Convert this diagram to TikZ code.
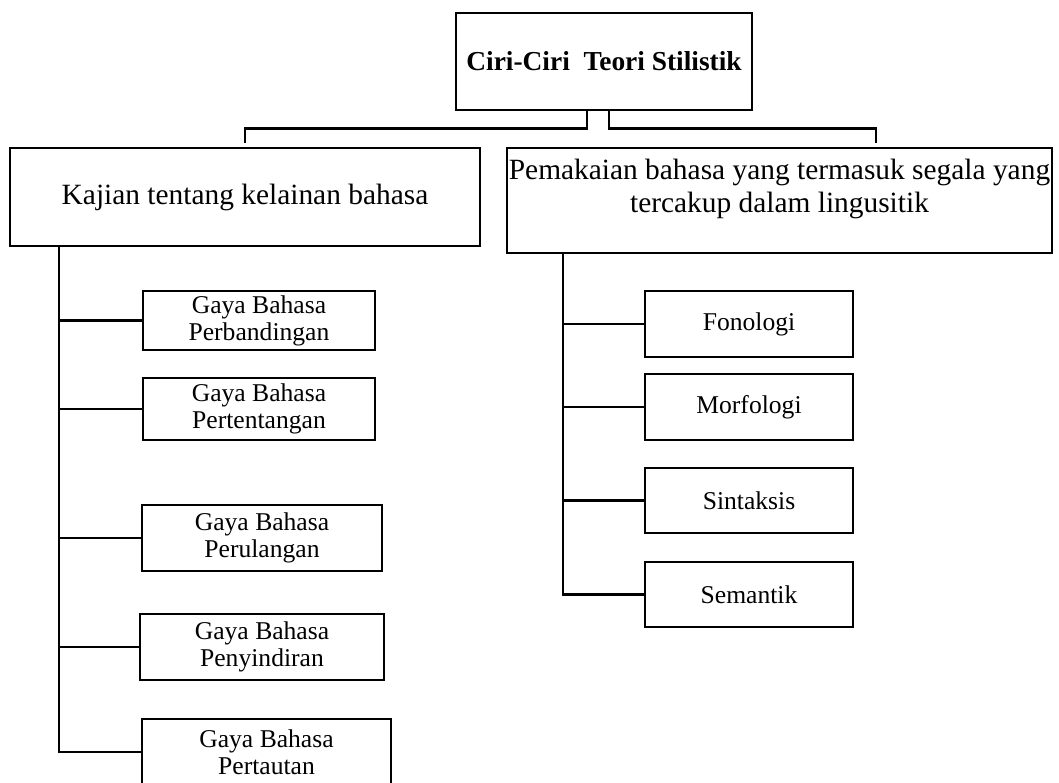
\documentclass[tikz,border=0pt]{standalone}
\usepackage{fontspec}
\setmainfont{Liberation Serif}
\usepackage{tikz}
\usetikzlibrary{positioning, calc}

\begin{document}
\begin{tikzpicture}[
  x=0.5pt, y=-0.5pt,
  box/.style={draw, line width=1.3pt, align=center, inner sep=0pt, fill=white},
  headbox/.style={box, font=\fontsize{13.7}{16}\selectfont\bfseries},
  mainbox/.style={box, font=\fontsize{14.7}{16.5}\selectfont},
  subbox/.style={box, font=\fontsize{12.8}{13.6}\selectfont},
  link/.style={line width=1.2pt, line cap=rect}
]
\useasboundingbox (0,0) rectangle (1059,782);

% judul
\node[headbox, minimum width=148pt, minimum height=48.5pt] (judul) at (604,61.5) {Ciri-Ciri~ Teori Stilistik};

% dua cabang utama
\node[mainbox, minimum width=235pt, minimum height=49pt] (kajian) at (245,197) {Kajian tentang kelainan bahasa};
\node[mainbox, minimum width=272.5pt, minimum height=52.5pt] (pemakaian) at (779.5,200.5) {};
\node[font=\fontsize{14.7}{16.5}\selectfont, align=center, inner sep=0pt] (pemakaianteks) at ([yshift=6pt]pemakaian.center)
  {Pemakaian bahasa yang termasuk segala yang\\tercakup dalam lingusitik};

% gaya bahasa
\node[subbox, minimum width=116pt, minimum height=29.5pt] (perbandingan) at (259,320.5) {Gaya Bahasa\\Perbandingan};
\node[subbox, minimum width=116pt, minimum height=31pt] (pertentangan) at (259,409) {Gaya Bahasa\\Pertentangan};
\node[subbox, minimum width=120pt, minimum height=33pt] (perulangan) at (262,538) {Gaya Bahasa\\Perulangan};
\node[subbox, minimum width=122pt, minimum height=33pt] (penyindiran) at (262,647) {Gaya Bahasa\\Penyindiran};
\node[subbox, minimum width=124.5pt, minimum height=33pt] (pertautan) at (266.5,752) {Gaya Bahasa\\Pertautan};

% linguistik
\node[subbox, minimum width=104pt, minimum height=33pt] (fonologi) at (749,324) {Fonologi};
\node[subbox, minimum width=104pt, minimum height=33pt] (morfologi) at (749,407) {Morfologi};
\node[subbox, minimum width=104pt, minimum height=32.5pt] (sintaksis) at (749,500.5) {Sintaksis};
\node[subbox, minimum width=104pt, minimum height=32.5pt] (semantik) at (749,594.5) {Semantik};

% garis dari judul
\draw[link, shorten >=2.5pt] ([xshift=-8.5pt]judul.south) -- ++(0,17) -| (kajian.north);
\draw[link, shorten >=2.5pt] ([xshift=2.5pt]judul.south) -- ++(0,17) -| ([xshift=48.25pt]pemakaian.north);

% batang kiri
\coordinate (batangkiri) at (kajian.south -| 59,0);
\draw[link] (batangkiri) |- (pertautan.west);
\foreach \n in {perbandingan, pertentangan, perulangan, penyindiran}
  \draw[link] (batangkiri |- \n.west) -- (\n.west);

% batang kanan
\coordinate (batangkanan) at (pemakaian.south -| 563,0);
\draw[link] (batangkanan) |- (semantik.west);
\foreach \n in {fonologi, morfologi, sintaksis}
  \draw[link] (batangkanan |- \n.west) -- (\n.west);
\end{tikzpicture}
\end{document}
